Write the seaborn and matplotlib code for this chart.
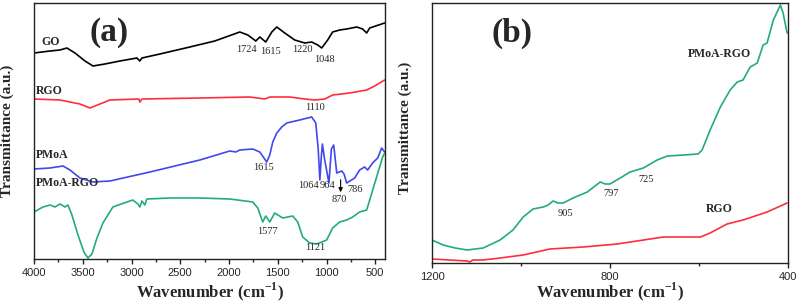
import matplotlib
matplotlib.use("Agg")
import matplotlib.pyplot as plt
import seaborn as sns
import pandas as pd
from matplotlib.ticker import MultipleLocator

# ---------------- Data (panel a) ----------------
go_wn = [4000, 3836, 3734, 3662, 3580, 3477, 3395, 3273, 3119, 2945, 2914, 2893, 2709, 2402, 2146,
         1889, 1807, 1725, 1684, 1623, 1561, 1510, 1428, 1326, 1223, 1152, 1090, 1049, 988, 937,
         865, 793, 742, 690, 629, 588, 557, 496, 404]
go_t = [206, 208, 209, 211, 206, 198, 193, 195, 198, 201, 198, 201, 205, 212, 218,
        227, 224, 218, 222, 217, 227, 232, 226, 219, 216, 217, 214, 211, 219, 227,
        229, 230, 231, 232, 230, 226, 231, 233, 236]

rgo_wn = [4000, 3734, 3529, 3426, 3324, 3221, 2924, 2914, 2893, 2299, 1787, 1633, 1582, 1377,
          1223, 1121, 1018, 937, 762, 588, 506, 404]
rgo_t = [160, 159, 155, 151, 155, 159, 160, 157, 160, 161, 162, 160, 162, 162,
         160, 159, 160, 164, 166, 169, 173, 179]

pmoa_wn = [4000, 3836, 3703, 3631, 3529, 3395, 3221, 2811, 2299, 1992, 1930, 1889, 1756, 1684,
           1613, 1582, 1551, 1510, 1459, 1408, 1275, 1152, 1110, 1085, 1068, 1055, 1042, 1020,
           975, 950, 926, 895, 844, 820, 793, 711, 660, 609, 578, 527, 475, 434, 404]
pmoa_t = [90, 91, 93, 89, 81, 77, 78, 87, 99, 108, 107, 109, 110, 107,
          97, 104, 117, 126, 132, 136, 139, 142, 136, 110, 79, 100, 115, 100,
          76, 110, 114, 86, 88, 85, 76, 81, 89, 92, 89, 96, 101, 111, 107]

prgo_wn = [4000, 3908, 3836, 3785, 3734, 3682, 3652, 3611, 3549, 3488, 3447, 3406, 3354, 3293,
           3191, 3047, 2986, 2934, 2914, 2893, 2863, 2842, 2607, 2299, 1992, 1756, 1705, 1654,
           1623, 1582, 1531, 1449, 1346, 1295, 1244, 1172, 1100, 1049, 998, 937, 865, 793, 731,
           660, 588, 557, 486, 424, 404]
prgo_t = [47, 52, 54, 52, 55, 52, 54, 44, 24, 7, 1, 5, 21, 36,
          52, 57, 59, 55, 52, 58, 54, 60, 61, 61, 60, 57, 51, 37,
          43, 37, 46, 41, 43, 37, 22, 16, 15, 17, 19, 31, 37, 39, 42,
          47, 49, 59, 82, 102, 106]

# ---------------- Data (panel b) ----------------
b_prgo_wn = [1200, 1175, 1148, 1121, 1085, 1047, 1018, 995, 973, 950, 939, 928, 917, 905, 883,
             851, 822, 811, 800, 777, 755, 725, 694, 671, 635, 602, 593, 575, 552, 530, 514,
             501, 485, 469, 456, 447, 433, 417, 411, 402]
b_prgo_t = [23, 18, 15, 13, 15, 23, 33, 46, 54, 56, 58, 62, 60, 60, 65,
            71, 81, 79, 79, 85, 91, 95, 103, 107, 108, 109, 113, 133, 156, 173, 181,
            183, 196, 200, 218, 220, 243, 258, 250, 230]

b_rgo_wn = [1200, 1121, 1115, 1108, 1085, 1047, 995, 935, 860, 784, 680, 597, 575, 537, 501, 447, 402]
b_rgo_t = [4, 2, 1, 3, 3, 5, 8, 14, 16, 19, 26, 26, 30, 39, 43, 51, 60]

labels_a = ["GO", "RGO", "PMoA", "PMoA-RGO"]
peaks_a = [("1724", 1818, 210), ("1615", 1572, 207), ("1220", 1244, 209), ("1048", 1018, 200),
           ("1110", 1121, 152), ("1615", 1643, 91), ("1064", 1182, 73), ("964", 988, 73),
           ("870", 865, 59), ("786", 711, 69), ("1577", 1602, 28), ("1121", 1111, 11)]
peaks_b = [("905", 901, 50), ("797", 797, 69), ("725", 719, 84)]

C_BLACK = "#000000"
C_RED = "#ff2d3f"
C_BLUE = "#3f48ee"
C_GREEN = "#22ad78"

sns.set_theme(style="ticks")
plt.rcParams["font.family"] = ["Liberation Sans", "DejaVu Sans"]
SERIF = ["Liberation Serif", "DejaVu Serif"]

fig = plt.figure(figsize=(7.99, 3.02), dpi=100)
ax1 = fig.add_axes([34 / 799, 1 - 259 / 302, 351 / 799, 256 / 302])
ax2 = fig.add_axes([432 / 799, 1 - 263 / 302, 356 / 799, 260 / 302])

dfa = pd.concat([
    pd.DataFrame({"wn": go_wn, "t": go_t, "s": "GO"}),
    pd.DataFrame({"wn": rgo_wn, "t": rgo_t, "s": "RGO"}),
    pd.DataFrame({"wn": pmoa_wn, "t": pmoa_t, "s": "PMoA"}),
    pd.DataFrame({"wn": prgo_wn, "t": prgo_t, "s": "PMoA-RGO"}),
])
pal_a = {"GO": C_BLACK, "RGO": C_RED, "PMoA": C_BLUE, "PMoA-RGO": C_GREEN}
sns.lineplot(data=dfa, x="wn", y="t", hue="s", palette=pal_a, sort=False,
             estimator=None, legend=False, lw=1.2, ax=ax1)

dfb = pd.concat([
    pd.DataFrame({"wn": b_prgo_wn, "t": b_prgo_t, "s": "PMoA-RGO"}),
    pd.DataFrame({"wn": b_rgo_wn, "t": b_rgo_t, "s": "RGO"}),
])
pal_b = {"PMoA-RGO": C_GREEN, "RGO": C_RED}
sns.lineplot(data=dfb, x="wn", y="t", hue="s", palette=pal_b, sort=False,
             estimator=None, legend=False, lw=1.2, ax=ax2)

for ax in (ax1, ax2):
    for sp in ax.spines.values():
        sp.set_visible(True)
        sp.set_color("#222222")
        sp.set_linewidth(1.0)
    ax.set_yticks([])
    ax.tick_params(axis="x", which="major", direction="out", length=3.5, width=1,
                   labelsize=8, pad=3, color="#222222")
    ax.tick_params(axis="x", which="minor", direction="out", length=2.5, width=1, color="#222222")
    ax.set_ylabel("Transmittance (a.u.)", fontfamily=SERIF, fontweight="bold", fontsize=11)
    ax.set_xlabel("Wavenumber (cm$^{\\mathregular{-1}}$)", fontfamily=SERIF, fontweight="bold", fontsize=12)

ax1.set_xlim(4000, 400)
ax1.set_ylim(0, 256)
ax1.xaxis.set_major_locator(MultipleLocator(500))
ax1.xaxis.set_minor_locator(MultipleLocator(250))
ax1.yaxis.set_label_coords(-0.058, 0.5)
ax1.xaxis.set_label_coords(0.5, -0.084)

ax2.set_xlim(1200, 400)
ax2.set_ylim(0, 260)
ax2.xaxis.set_major_locator(MultipleLocator(400))
ax2.xaxis.set_minor_locator(MultipleLocator(200))
ax2.yaxis.set_label_coords(-0.057, 0.52)
ax2.xaxis.set_label_coords(0.5, -0.068)

# Curve labels panel a
name_pos = [(3928, 217), (3980, 168), (3980, 104), (3980, 76)]
for name, (x, y) in zip(labels_a, name_pos):
    ax1.text(x, y, name, fontfamily=SERIF, fontweight="bold", fontsize=8.5, ha="left", va="center")
for lab, x, y in peaks_a:
    ax1.text(x, y, lab, fontfamily=SERIF, fontsize=7.5, ha="center", va="center")
ax1.annotate("", xy=(855, 64), xytext=(855, 82),
             arrowprops=dict(arrowstyle="-|>", lw=0.8, color="black", mutation_scale=6))
ax1.text(3229, 226, "(a)", fontfamily=SERIF, fontweight="bold", fontsize=24, ha="center", va="center")

ax2.text(1020, 230, "(b)", fontfamily=SERIF, fontweight="bold", fontsize=24, ha="center", va="center")
ax2.text(555, 209, "PMoA-RGO", fontfamily=SERIF, fontweight="bold", fontsize=8.5, ha="center", va="center")
ax2.text(555, 54, "RGO", fontfamily=SERIF, fontweight="bold", fontsize=8.5, ha="center", va="center")
for lab, x, y in peaks_b:
    ax2.text(x, y, lab, fontfamily=SERIF, fontsize=7.5, ha="center", va="center")

fig.savefig("out.png", dpi=100)
